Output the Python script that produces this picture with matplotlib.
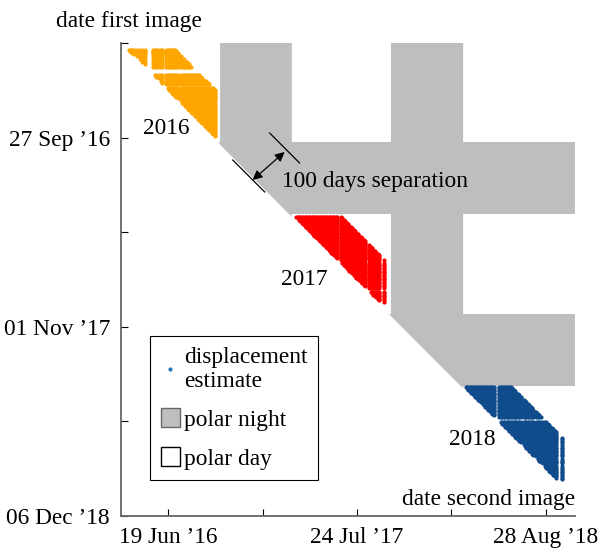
import numpy as np
import matplotlib
matplotlib.use("Agg")
import matplotlib.pyplot as plt
from matplotlib.patches import Patch, Polygon
from matplotlib.lines import Line2D

# image acquisition days, counted from 19 Jun 2016
acq_2016 = [-85, -83, -81, -79, -77, -72, -66, -60, -55, -50,
            -32, -29, -26, -19, -16, -13,
            -4, -1, 2, 5, 8, 11, 14, 17, 20, 27, 30, 33, 36, 39, 42, 45, 48,
            51, 54, 57, 60, 63, 66, 69, 72, 75, 78, 81, 84, 87, 90, 93, 96, 99]
acq_2017 = [268, 271, 274, 277, 280, 283, 286, 289, 292, 295, 298, 301, 304,
            307, 310, 313, 316, 319, 322, 325, 328, 331, 334, 337, 340, 343,
            346, 349, 352, 355, 358, 366, 369, 372, 375, 378, 381, 384, 387,
            390, 393, 396, 399, 402, 405, 408, 411, 414, 417, 426, 429,
            432, 435, 438, 441, 444, 447, 458]
acq_2018 = [627, 630, 633, 636, 639, 642, 645, 648, 651, 654, 657, 660, 663,
            666, 669, 672, 675, 678, 681, 684, 687, 690, 702, 705, 708, 711,
            714, 717, 720, 723, 726, 729, 732, 735, 738, 741, 744, 747, 753,
            756, 759, 762, 765, 768, 771, 774, 780, 783, 786, 789, 795, 798,
            801, 804, 807, 810, 813, 816, 819, 822, 834]
max_sep = 100

polar_night = [(110, 262), (472, 625)]
diag_offset = -5

x_ticks = [0, 400, 800]
x_labels = ["19 Jun \u201916", "24 Jul \u201917", "28 Aug \u201918"]
x_minor = [200, 600]
y_ticks = [100, 500, 900]
y_labels = ["27 Sep \u201916", "01 Nov \u201917", "06 Dec \u201918"]
y_minor = [-100, 300, 700]

season_colors = ["#FFA500", "#FF0000", "#104C8C"]
season_names = ["2016", "2017", "2018"]
season_label_pos = [(-5, 80), (289, 401), (644, 739)]

xmin, xmax, ymin, ymax = -100, 862, -100, 900
gray = "#BEBEBE"


def pairs(dates, sep):
    d = np.array(dates)
    d1, d2 = np.meshgrid(d, d, indexing="ij")
    m = (d2 > d1) & (d2 - d1 <= sep)
    return d2[m], d1[m]


plt.rcParams["font.family"] = ["Liberation Serif", "DejaVu Serif"]
plt.rcParams["font.size"] = 16.8

fig = plt.figure(figsize=(6.01, 5.48), dpi=100)
ax = fig.add_axes([121 / 601, 32 / 548, 454 / 601, 473 / 548])

# polar night areas, cut along the diagonal
for a, b in polar_night:
    vert = [(a, ymin), (b, ymin), (b, b - diag_offset), (a, a - diag_offset)]
    horiz = [(a + diag_offset, a), (xmax, a), (xmax, b), (b + diag_offset, b)]
    ax.add_patch(Polygon(vert, closed=True, fc=gray, ec="none", zorder=1))
    ax.add_patch(Polygon(horiz, closed=True, fc=gray, ec="none", zorder=1))

for dates, col in zip([acq_2016, acq_2017, acq_2018], season_colors):
    xs, ys = pairs(dates, max_sep)
    ax.scatter(xs, ys, s=9, color=col, linewidths=0, zorder=3)

for name, (tx, ty) in zip(season_names, season_label_pos):
    ax.text(tx, ty, name, ha="center", va="center", zorder=4)

# 100 days separation sketch
ax.plot([136.8, 204.5], [147.4, 215], color="black", lw=0.9, zorder=4)
ax.plot([215, 278.4], [90.3, 153.7], color="black", lw=0.9, zorder=4)
ax.annotate("", xy=(179, 189.6), xytext=(246.7, 130.4),
            arrowprops=dict(arrowstyle="<|-|>", color="black", lw=0.9,
                            mutation_scale=14, shrinkA=0, shrinkB=0),
            zorder=4)
ax.text(242, 192, "100 days separation", ha="left", va="center", zorder=4)

ax.set_xlim(xmin, xmax)
ax.set_ylim(ymax, ymin)
ax.set_xticks(x_ticks)
ax.set_xticklabels(x_labels)
ax.set_xticks(x_minor, minor=True)
ax.set_yticks(y_ticks)
ax.set_yticklabels(y_labels)
ax.set_yticks(y_minor, minor=True)
ax.tick_params(which="both", direction="in", length=5, width=0.8, pad=8)
for s in ["top", "right"]:
    ax.spines[s].set_visible(False)
for s in ["left", "bottom"]:
    ax.spines[s].set_color("#666666")
    ax.spines[s].set_linewidth(1.3)

fig.text(129 / 601, 1 - 22 / 548, "date first image", ha="center", va="center")
ax.text(1.0, 0.012, "date second image", ha="right", va="bottom",
        transform=ax.transAxes)

handles = [Line2D([], [], marker=".", ls="none", color="#1f77b4", ms=4),
           Patch(fc=gray, ec="#666666"),
           Patch(fc="white", ec="black")]
labels = ["displacement\nestimate", "polar night", "polar day"]
leg = ax.legend(handles, labels, loc="lower left",
                bbox_to_anchor=(0.064, 0.076), borderaxespad=0,
                fancybox=False, edgecolor="black", framealpha=1,
                handlelength=0.85, handleheight=0.85, handletextpad=0.15,
                borderpad=0.45, labelspacing=0.7)
leg.get_frame().set_linewidth(0.8)

fig.savefig("out.png", dpi=100)
